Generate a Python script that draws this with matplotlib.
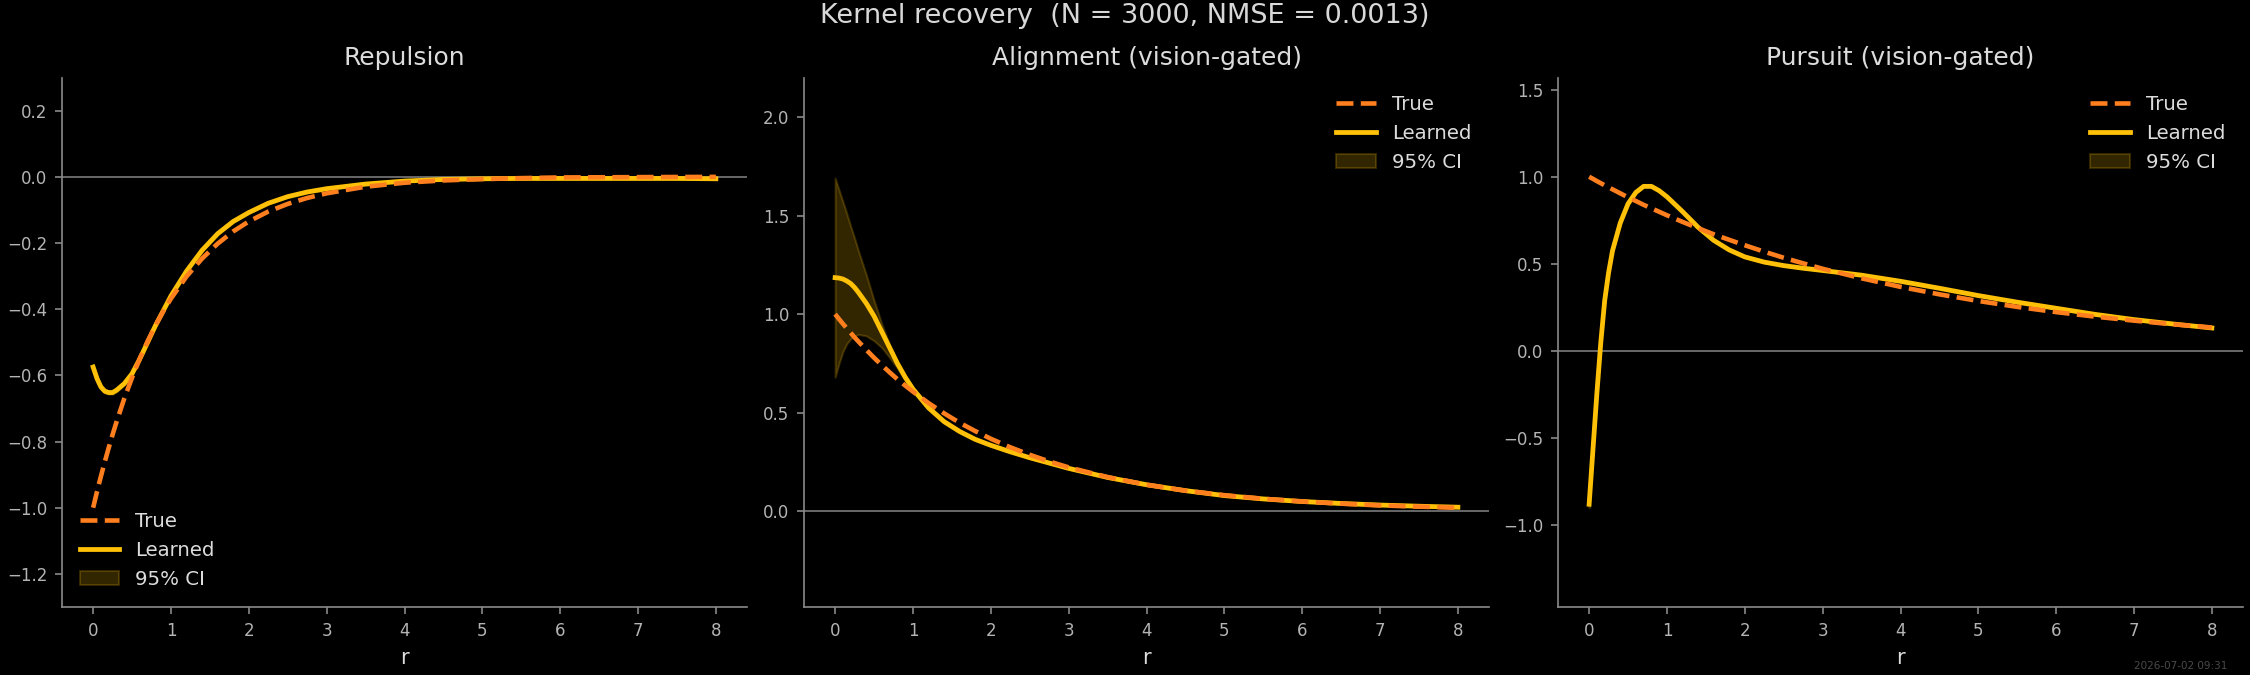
import matplotlib
matplotlib.use("Agg")
import matplotlib.pyplot as plt
import numpy as np

# sample radii (finer near r = 0 where the kernels bend sharply)
r = [0, 0.05, 0.1, 0.15, 0.2, 0.25, 0.3, 0.4, 0.5, 0.6, 0.7, 0.8, 0.9, 1.0,
     1.2, 1.4, 1.6, 1.8, 2.0, 2.25, 2.5, 2.75, 3.0, 3.5, 4.0, 4.5, 5.0,
     5.5, 6.0, 6.5, 7.0, 7.5, 8.0]

# Repulsion
rep_true = [-1.0, -0.951, -0.905, -0.861, -0.819, -0.779, -0.741, -0.670, -0.607,
            -0.549, -0.497, -0.449, -0.407, -0.368, -0.301, -0.247, -0.202, -0.165,
            -0.135, -0.105, -0.082, -0.064, -0.050, -0.030, -0.018, -0.011, -0.007,
            -0.004, -0.002, -0.0015, -0.001, -0.0006, -0.0003]
rep_learned = [-0.575, -0.61, -0.635, -0.648, -0.652, -0.652, -0.645, -0.625, -0.595,
               -0.55, -0.50, -0.45, -0.405, -0.36, -0.285, -0.222, -0.172, -0.135,
               -0.108, -0.08, -0.06, -0.046, -0.036, -0.022, -0.013, -0.008, -0.006,
               -0.005, -0.005, -0.005, -0.005, -0.005, -0.006]
rep_ci_hw = [0.008, 0.007, 0.006, 0.006, 0.005, 0.005, 0.005, 0.004, 0.004, 0.004,
             0.004, 0.003, 0.003, 0.003, 0.003, 0.003, 0.002, 0.002, 0.002, 0.002,
             0.002, 0.002, 0.002, 0.002, 0.002, 0.002, 0.002, 0.002, 0.002, 0.002,
             0.002, 0.002, 0.002]

# Alignment
ali_true = [1.0, 0.975, 0.951, 0.928, 0.905, 0.882, 0.861, 0.819, 0.779, 0.741,
            0.705, 0.670, 0.638, 0.607, 0.549, 0.497, 0.449, 0.407, 0.368, 0.325,
            0.287, 0.253, 0.223, 0.174, 0.135, 0.105, 0.082, 0.064, 0.050, 0.039,
            0.030, 0.024, 0.018]
ali_learned = [1.185, 1.183, 1.178, 1.168, 1.155, 1.135, 1.11, 1.055, 0.99, 0.91,
               0.83, 0.75, 0.68, 0.62, 0.525, 0.455, 0.405, 0.365, 0.335, 0.302,
               0.272, 0.245, 0.218, 0.172, 0.135, 0.105, 0.08, 0.063, 0.05, 0.04,
               0.032, 0.026, 0.021]
ali_ci_hi = [1.69, 1.63, 1.57, 1.51, 1.445, 1.385, 1.32, 1.20, 1.07, 0.95, 0.845,
             0.76, 0.69, 0.63, 0.535, 0.463, 0.412, 0.371, 0.34, 0.306, 0.276, 0.249,
             0.222, 0.176, 0.139, 0.108, 0.083, 0.066, 0.053, 0.043, 0.035, 0.029, 0.024]
ali_ci_lo = [0.68, 0.75, 0.81, 0.85, 0.875, 0.89, 0.897, 0.89, 0.865, 0.83, 0.78,
             0.725, 0.665, 0.608, 0.515, 0.447, 0.398, 0.359, 0.33, 0.298, 0.268,
             0.241, 0.214, 0.168, 0.131, 0.102, 0.077, 0.060, 0.047, 0.037, 0.029,
             0.023, 0.018]

# Pursuit
pur_true = [1.0, 0.988, 0.975, 0.963, 0.951, 0.939, 0.928, 0.905, 0.882, 0.861,
            0.839, 0.819, 0.799, 0.779, 0.741, 0.705, 0.670, 0.638, 0.607, 0.570,
            0.535, 0.503, 0.472, 0.417, 0.368, 0.325, 0.287, 0.253, 0.223, 0.197,
            0.174, 0.153, 0.135]
pur_learned = [-0.88, -0.56, -0.24, 0.05, 0.29, 0.45, 0.575, 0.735, 0.845, 0.91,
               0.945, 0.945, 0.92, 0.885, 0.80, 0.71, 0.635, 0.58, 0.54, 0.51,
               0.49, 0.475, 0.462, 0.435, 0.40, 0.36, 0.318, 0.28, 0.245, 0.21,
               0.18, 0.155, 0.132]
pur_ci_hw = [0.02, 0.016, 0.012, 0.01, 0.008, 0.007, 0.006, 0.005, 0.005, 0.004,
             0.004, 0.004, 0.004, 0.004, 0.003, 0.003, 0.003, 0.003, 0.003, 0.003,
             0.003, 0.003, 0.003, 0.003, 0.003, 0.003, 0.003, 0.003, 0.003, 0.003,
             0.003, 0.003, 0.003]

titles = ["Repulsion", "Alignment (vision-gated)", "Pursuit (vision-gated)"]
ylims = [(-1.3, 0.3), (-0.485, 2.2), (-1.47, 1.57)]
legend_locs = ["lower left", "upper right", "upper right"]

rep_ci_lo = np.array(rep_learned) - np.array(rep_ci_hw)
rep_ci_hi = np.array(rep_learned) + np.array(rep_ci_hw)
pur_ci_lo = np.array(pur_learned) - np.array(pur_ci_hw)
pur_ci_hi = np.array(pur_learned) + np.array(pur_ci_hw)

panels = [
    (rep_true, rep_learned, rep_ci_lo, rep_ci_hi),
    (ali_true, ali_learned, ali_ci_lo, ali_ci_hi),
    (pur_true, pur_learned, pur_ci_lo, pur_ci_hi),
]

BG = "#000000"
TRUE_C = "#ff7f1e"
LEARN_C = "#ffc107"

plt.rcParams.update({
    "font.family": "DejaVu Sans",
    "figure.facecolor": BG,
    "axes.facecolor": BG,
    "axes.edgecolor": "#8a8a8a",
    "xtick.color": "#8a8a8a",
    "ytick.color": "#8a8a8a",
    "xtick.labelcolor": "#b4b4b4",
    "ytick.labelcolor": "#b4b4b4",
    "xtick.labelsize": 8,
    "ytick.labelsize": 8,
})

fig = plt.figure(figsize=(15, 4.5), dpi=150)
lefts = [62 / 2250, 804 / 2250, 1558 / 2250]
bottom = 1 - 607 / 675
height = (607 - 77.5) / 675
width = 685 / 2250

for i, (tr, le, lo, hi) in enumerate(panels):
    ax = fig.add_axes([lefts[i], bottom, width, height])
    ax.axhline(0, color="#7a7a7a", lw=0.8, zorder=0)
    ax.plot(r, tr, color=TRUE_C, ls="--", lw=2.2, label="True", zorder=3)
    ax.plot(r, le, color=LEARN_C, lw=2.3, label="Learned", zorder=2)
    ax.fill_between(r, lo, hi, color=LEARN_C, alpha=0.2, lw=1.0, label="95% CI", zorder=1)
    ax.set_ylim(*ylims[i])
    ax.set_xticks(range(9))
    ax.set_title(titles[i], color="#dcdcdc", fontsize=12)
    ax.set_xlabel("r", color="#dcdcdc", fontsize=10)
    for s in ["top", "right"]:
        ax.spines[s].set_visible(False)
    leg = ax.legend(loc=legend_locs[i], frameon=False, fontsize=9.5)
    for t in leg.get_texts():
        t.set_color("#dcdcdc")

fig.suptitle("Kernel recovery  (N = 3000, NMSE = 0.0013)", color="#d8d8d8",
             fontsize=13, y=0.995)
fig.text(0.99, 0.006, "2026-07-02 09:31", color="#4a4a4a", fontsize=5,
         ha="right", va="bottom")

fig.savefig("out.png", dpi=150, facecolor=BG)
